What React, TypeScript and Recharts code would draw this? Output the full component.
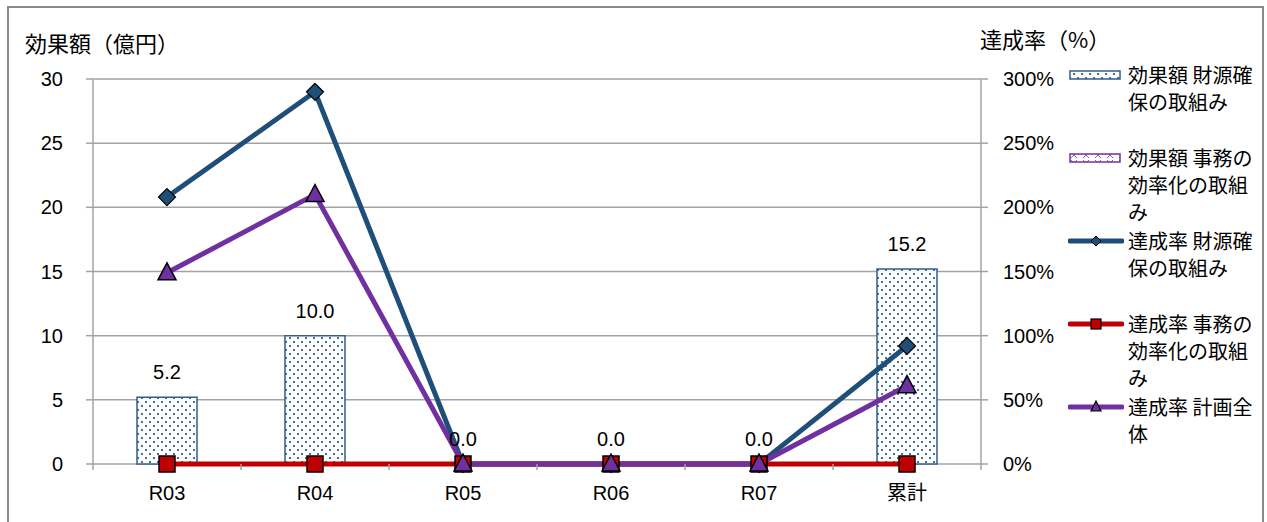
import React from 'react'
import { ComposedChart, Bar, Line, XAxis, YAxis, CartesianGrid, LabelList } from 'recharts'

const categories = ['R03', 'R04', 'R05', 'R06', 'R07', '累計']
const zaigenAmount = [5.2, 10.0, 0.0, 0.0, 0.0, 15.2]
const jimuAmount = [0, 0, 0, 0, 0, 0]
const zaigenRate = [208, 290, 0, 0, 0, 92]
const jimuRate = [0, 0, 0, 0, 0, 0]
const totalRate = [149, 210, 0, 0, 0, 61]
const leftTicks = [0, 5, 10, 15, 20, 25, 30]
const rightTicks = [0, 50, 100, 150, 200, 250, 300]

const data = categories.map((name, i) => ({
  name,
  zaigenAmount: zaigenAmount[i],
  jimuAmount: jimuAmount[i],
  zaigenRate: zaigenRate[i],
  jimuRate: jimuRate[i],
  totalRate: totalRate[i],
}))

const BLUE = '#1F4E79'
const RED = '#C00000'
const PURPLE = '#7030A0'
const GRID = '#A3A3A3'
const NUM_FONT = '"Liberation Sans", Arial, sans-serif'
const JP_FONT = '"Noto Sans CJK JP", sans-serif'

const W = 1267
const H = 522
const LEFT_AXIS_W = 93
const RIGHT_AXIS_W = 80
const MARGIN_RIGHT = 206
const BAND = (W - LEFT_AXIS_W - RIGHT_AXIS_W - MARGIN_RIGHT) / categories.length

const Diamond = (p: any) => {
  const { cx, cy } = p
  if (cx == null || cy == null) return null
  return <polygon points={`${cx},${cy - 8.5} ${cx + 8.5},${cy} ${cx},${cy + 8.5} ${cx - 8.5},${cy}`} fill={BLUE} stroke="#000" strokeWidth={1.2} />
}
const Square = (p: any) => {
  const { cx, cy } = p
  if (cx == null || cy == null) return null
  return <rect x={cx - 8} y={cy - 8} width={16} height={16} fill={RED} stroke="#000" strokeWidth={1.5} />
}
const Triangle = (p: any) => {
  const { cx, cy } = p
  if (cx == null || cy == null) return null
  return <polygon points={`${cx},${cy - 10} ${cx + 9},${cy + 7} ${cx - 9},${cy + 7}`} fill={PURPLE} stroke="#000" strokeWidth={1.5} />
}

const XTick = (p: any) => {
  const { x, y, payload, index } = p
  const last = index === categories.length - 1
  return (
    <g>
      <line x1={x - BAND / 2} x2={x - BAND / 2} y1={y - 8} y2={y - 2} stroke={GRID} strokeWidth={1.5} />
      {last && <line x1={x + BAND / 2} x2={x + BAND / 2} y1={y - 8} y2={y - 2} stroke={GRID} strokeWidth={1.5} />}
      <text x={x} y={y + 28} textAnchor="middle" fontSize={20} fontFamily={payload.value === '累計' ? JP_FONT : NUM_FONT} fill="#000">
        {payload.value}
      </text>
    </g>
  )
}

const legendItems = [
  { label: '効果額 財源確保の取組み', kind: 'bar', fill: 'url(#dots)', stroke: '#2F5F8F' },
  { label: '効果額 事務の効率化の取組み', kind: 'bar', fill: 'url(#cross)', stroke: PURPLE },
  { label: '達成率 財源確保の取組み', kind: 'line', color: BLUE, marker: 'diamond' },
  { label: '達成率 事務の効率化の取組み', kind: 'line', color: RED, marker: 'square' },
  { label: '達成率 計画全体', kind: 'line', color: PURPLE, marker: 'triangle' },
]

function LegendIcon({ item }: { item: any }) {
  if (item.kind === 'bar') {
    return (
      <svg width={56} height={14}>
        <rect x={2} y={3} width={50} height={8} fill={item.fill} stroke={item.stroke} strokeWidth={1.5} />
      </svg>
    )
  }
  const cx = 28
  const cy = 7
  return (
    <svg width={56} height={14}>
      <line x1={2} x2={54} y1={cy} y2={cy} stroke={item.color} strokeWidth={5} strokeLinecap="round" />
      {item.marker === 'diamond' && <polygon points={`${cx},${cy - 5} ${cx + 5},${cy} ${cx},${cy + 5} ${cx - 5},${cy}`} fill={BLUE} stroke="#000" strokeWidth={1} />}
      {item.marker === 'square' && <rect x={cx - 5} y={cy - 5} width={10} height={10} fill={RED} stroke="#000" strokeWidth={1.2} />}
      {item.marker === 'triangle' && <polygon points={`${cx},${cy - 6} ${cx + 5},${cy + 4} ${cx - 5},${cy + 4}`} fill={PURPLE} stroke="#000" strokeWidth={1.2} />}
    </svg>
  )
}

export default function App() {
  return (
    <div style={{ position: 'absolute', left: 0, top: 0, width: W, height: H, background: '#fff', overflow: 'hidden' }}>
      <svg width={0} height={0} style={{ position: 'absolute' }}>
        <defs>
          <pattern id="dots" width={8} height={8} patternUnits="userSpaceOnUse">
            <rect width={8} height={8} fill="#fff" />
            <circle cx={2} cy={2} r={1.1} fill={BLUE} />
            <circle cx={6} cy={6} r={1.1} fill={BLUE} />
          </pattern>
          <pattern id="cross" width={12} height={8} patternUnits="userSpaceOnUse">
            <rect width={12} height={8} fill="#fff" />
            <path d="M3 1 L9 7 M9 1 L3 7" stroke={PURPLE} strokeWidth={0.8} />
          </pattern>
        </defs>
      </svg>
      <div style={{ position: 'absolute', left: 7, top: 6, width: 1257, height: 530, border: '2px solid #8a8a8a', boxSizing: 'border-box' }} />
      <div style={{ position: 'absolute', left: 25, top: 27, fontFamily: JP_FONT, fontSize: 22, lineHeight: '30px' }}>効果額（億円）</div>
      <div style={{ position: 'absolute', left: 980, top: 23, fontFamily: JP_FONT, fontSize: 22, lineHeight: '30px' }}>達成率（%）</div>
      <ComposedChart
        width={W}
        height={H}
        data={data}
        margin={{ top: 79, right: MARGIN_RIGHT, left: 0, bottom: 0 }}
        style={{ position: 'absolute', left: 0, top: 0 }}
      >
        <CartesianGrid yAxisId="left" vertical={false} stroke={GRID} strokeWidth={1.5} />
        <XAxis dataKey="name" height={58} axisLine={false} tickLine={false} tick={<XTick />} interval={0} />
        <YAxis
          yAxisId="left"
          width={LEFT_AXIS_W}
          domain={[0, 30]}
          ticks={leftTicks}
          axisLine={{ stroke: GRID, strokeWidth: 1.5 }}
          tickLine={{ stroke: GRID, strokeWidth: 1.5 }}
          tickSize={7}
          tickMargin={23}
          tick={{ fontSize: 20, fill: '#000', fontFamily: NUM_FONT }}
        />
        <YAxis
          yAxisId="right"
          orientation="right"
          width={RIGHT_AXIS_W}
          domain={[0, 300]}
          ticks={rightTicks}
          tickFormatter={(v: number) => `${v}%`}
          axisLine={{ stroke: GRID, strokeWidth: 1.5 }}
          tickLine={{ stroke: GRID, strokeWidth: 1.5 }}
          tickSize={7}
          tickMargin={15}
          tick={{ fontSize: 20, fill: '#000', fontFamily: NUM_FONT, textAnchor: 'start' }}
        />
        <Bar yAxisId="left" dataKey="zaigenAmount" stackId="a" barSize={60} fill="url(#dots)" stroke="#2F5F8F" strokeWidth={1.5} isAnimationActive={false} />
        <Bar yAxisId="left" dataKey="jimuAmount" stackId="a" barSize={60} fill="url(#cross)" stroke={PURPLE} strokeWidth={1.5} isAnimationActive={false} />
        {/* invisible carrier for the bar value labels (zero-height bars drop their labels) */}
        <Line yAxisId="left" dataKey="zaigenAmount" stroke="none" dot={false} activeDot={false} isAnimationActive={false}>
          <LabelList
            dataKey="zaigenAmount"
            position="top"
            offset={18}
            formatter={(v: any) => Number(v).toFixed(1)}
            style={{ fontSize: 20, fill: '#000', fontFamily: NUM_FONT }}
          />
        </Line>
        <Line yAxisId="right" dataKey="zaigenRate" stroke={BLUE} strokeWidth={5} dot={<Diamond />} activeDot={false} isAnimationActive={false} />
        <Line yAxisId="right" dataKey="jimuRate" stroke={RED} strokeWidth={5} dot={<Square />} activeDot={false} isAnimationActive={false} />
        <Line yAxisId="right" dataKey="totalRate" stroke={PURPLE} strokeWidth={5} dot={<Triangle />} activeDot={false} isAnimationActive={false} />
      </ComposedChart>
      <div style={{ position: 'absolute', left: 1068, top: 61 }}>
        {legendItems.map((item) => (
          <div key={item.label} style={{ display: 'flex', alignItems: 'flex-start', height: 83 }}>
            <div style={{ width: 60, paddingTop: 7 }}>
              <LegendIcon item={item} />
            </div>
            <div style={{ width: 130, fontFamily: JP_FONT, fontSize: 20, lineHeight: '27px', color: '#000' }}>{item.label}</div>
          </div>
        ))}
      </div>
    </div>
  )
}
